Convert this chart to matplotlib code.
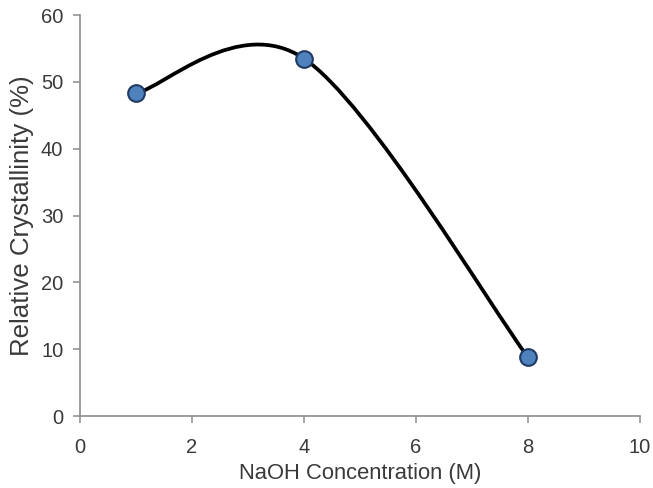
import matplotlib
matplotlib.use("Agg")
import matplotlib.pyplot as plt
from matplotlib.path import Path
from matplotlib.patches import PathPatch

plt.rcParams['font.family'] = ['Liberation Sans', 'DejaVu Sans']

# NaOH concentration (M) vs relative crystallinity (%)
naoh_conc = [1, 4, 8]
crystallinity = [48.3, 53.5, 8.8]

x_ticks = [0, 2, 4, 6, 8, 10]
y_ticks = [0, 10, 20, 30, 40, 50, 60]


def smooth_path(xs, ys):
    # spreadsheet-style smoothed line: cubic bezier segments with
    # control points taken from neighbouring points (tension 1/6)
    pts = list(zip(xs, ys))
    n = len(pts)
    verts = [pts[0]]
    codes = [Path.MOVETO]
    for i in range(n - 1):
        p0 = pts[max(i - 1, 0)]
        p1 = pts[i]
        p2 = pts[i + 1]
        p3 = pts[min(i + 2, n - 1)]
        c1 = (p1[0] + (p2[0] - p0[0]) / 6, p1[1] + (p2[1] - p0[1]) / 6)
        c2 = (p2[0] - (p3[0] - p1[0]) / 6, p2[1] - (p3[1] - p1[1]) / 6)
        verts += [c1, c2, p2]
        codes += [Path.CURVE4] * 3
    return Path(verts, codes)


fig = plt.figure(figsize=(6.53, 4.88), dpi=100)
ax = fig.add_axes([0.1225, 0.1475, 0.8575, 0.8215])

ax.add_patch(PathPatch(smooth_path(naoh_conc, crystallinity), fill=False,
                       edgecolor='black', lw=2.7, capstyle='round', zorder=2))
ax.plot(naoh_conc, crystallinity, linestyle='none', marker='o', ms=12,
        markerfacecolor='#4F81BD', markeredgecolor='#1F3B63', markeredgewidth=1.5,
        zorder=3)

ax.set_xlim(0, 10)
ax.set_ylim(0, 60)
ax.set_xticks(x_ticks)
ax.set_yticks(y_ticks)

for side in ('top', 'right'):
    ax.spines[side].set_visible(False)
for side in ('left', 'bottom'):
    ax.spines[side].set_color('#8C8C8C')
    ax.spines[side].set_linewidth(1.2)
ax.tick_params(direction='out', length=5, width=1.1, color='#8C8C8C',
               labelsize=14.5, labelcolor='#3A3A3A')
ax.tick_params(axis='x', pad=11)
ax.tick_params(axis='y', pad=7)

ax.set_xlabel('NaOH Concentration (M)', fontsize=15.8, color='#3A3A3A', labelpad=4)
ax.set_ylabel('Relative Crystallinity (%)', fontsize=18.6, color='#3A3A3A', labelpad=5)

fig.savefig('out.png', dpi=100)
